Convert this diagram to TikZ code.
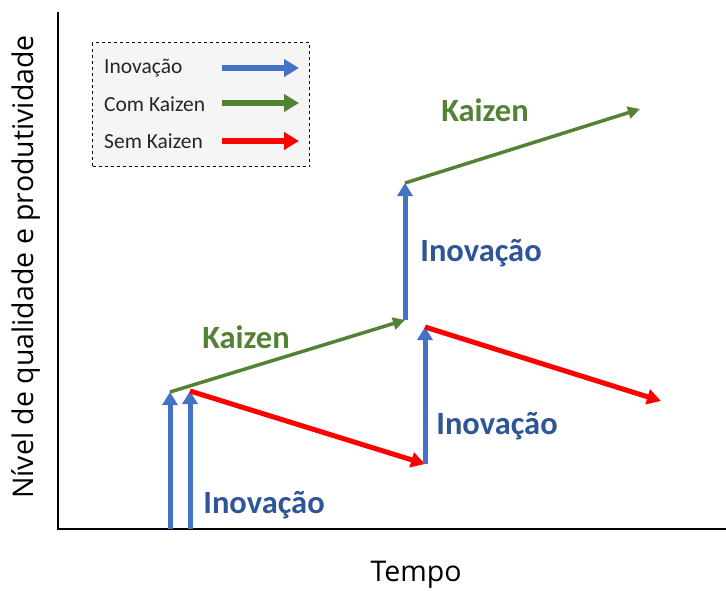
\documentclass[tikz,border=0pt]{standalone}
\usepackage{fontspec}
\setmainfont{Carlito}
\newfontfamily\axisfont{Open Sans}
\usetikzlibrary{arrows.meta}
\definecolor{innoblue}{HTML}{4472C4}
\definecolor{innotext}{HTML}{2F5597}
\definecolor{kaigreen}{HTML}{548235}
\definecolor{dropred}{HTML}{FF0000}
\definecolor{legendbg}{HTML}{F5F5F5}
\tikzset{
  axisline/.style={line width=1.6pt, black},
  innoarrow/.style={line width=5pt, innoblue, -{Triangle[length=13pt,width=15pt]}},
  kaiarrow/.style={line width=3.5pt, kaigreen, -{Triangle[length=12pt,width=12pt]}},
  droparrow/.style={line width=5pt, dropred, -{Triangle[length=14pt,width=15pt]}},
  legarrow/.style={line width=6pt, -{Triangle[length=15pt,width=17pt]}},
  innolabel/.style={font=\fontsize{32.5}{34}\selectfont\bfseries, text=innotext, inner sep=0pt},
  kailabel/.style={font=\fontsize{32.5}{34}\selectfont\bfseries, text=kaigreen, inner sep=0pt},
  legtext/.style={font=\fontsize{21.5}{23}\selectfont, text=black!85, anchor=west, inner sep=0pt},
  axislabel/.style={font=\axisfont\fontsize{28.5}{30}\selectfont, inner sep=0pt},
}
\begin{document}
\begin{tikzpicture}[x=1pt, y=-1pt]
\useasboundingbox (0,0) rectangle (726,590);

% axes
\coordinate (ytop) at (58,12);
\coordinate (origin) at (58,529);
\coordinate (xend) at (726,529);
\draw[axisline] (ytop) -- (origin) -- (xend);
\node[axislabel] (xlabel) at (416,575) {Tempo};
\node[axislabel, rotate=90] (ylabel) at (26,267) {Nível de qualidade e produtividade};

% first innovation step (both paths)
\coordinate (a0) at (170,529);
\coordinate (a1) at (170,392);
\coordinate (b0) at (190,529);
\coordinate (b1) at (190,391);
\draw[innoarrow] (a0) -- (a1);
\draw[innoarrow] (b0) -- (b1);

% path with kaizen
\coordinate (k1) at (405,320);
\coordinate (k2) at (405,183);
\coordinate (k3) at (640,109);
\draw[kaiarrow] (a1) -- (k1);
\draw[innoarrow] (k1) -- (k2);
\draw[kaiarrow] (k2) -- (k3);

% path without kaizen
\coordinate (s1) at (425,464);
\coordinate (s2) at (425,327);
\coordinate (s3) at (661,401);
\draw[droparrow] (b1) -- (s1);
\draw[innoarrow] (s1) -- (s2);
\draw[droparrow] (s2) -- (s3);

% labels
\node[innolabel] (inno1) at (264,505) {Inovação};
\node[innolabel] (inno2) at (497,426) {Inovação};
\node[innolabel] (inno3) at (481,253) {Inovação};
\node[kailabel] (kai1) at (246,337) {Kaizen};
\node[kailabel] (kai2) at (485,110) {Kaizen};

% legend
\node[draw, dashed, line width=1pt, fill=legendbg, minimum width=217pt, minimum height=124pt, anchor=north west, inner sep=0pt] (legend) at (92,42) {};
\node[legtext] (lt1) at (104,68) {Inovação};
\node[legtext] (lt2) at (104,104) {Com Kaizen};
\node[legtext] (lt3) at (104,141) {Sem Kaizen};
\coordinate (la1) at (222,68);  \coordinate (lb1) at (299,68);
\coordinate (la2) at (222,103); \coordinate (lb2) at (299,103);
\coordinate (la3) at (222,141); \coordinate (lb3) at (299,141);
\draw[legarrow, innoblue] (la1) -- (lb1);
\draw[legarrow, kaigreen] (la2) -- (lb2);
\draw[legarrow, dropred] (la3) -- (lb3);
\end{tikzpicture}
\end{document}
